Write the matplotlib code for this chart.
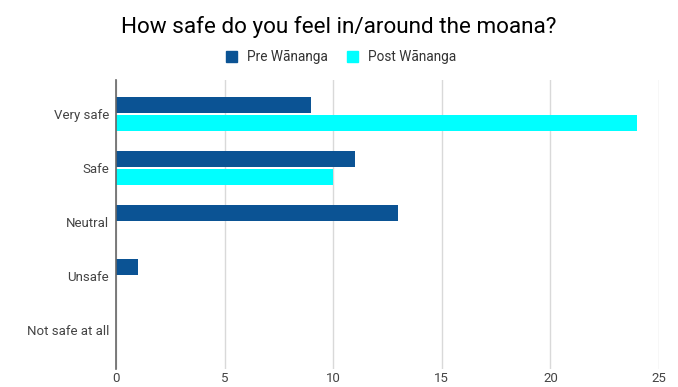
import numpy as np
import matplotlib.pyplot as plt
from matplotlib.patches import Patch

categories = ["Very safe", "Safe", "Neutral", "Unsafe", "Not safe at all"]
pre_values = [9, 11, 13, 1, 0]
post_values = [24, 10, 0, 0, 0]
x_ticks = [0, 5, 10, 15, 20, 25]

pre_color = "#0b5394"
post_color = "#00ffff"

plt.rcParams['font.family'] = ['Roboto', 'DejaVu Sans']

fig = plt.figure(figsize=(6.78, 3.87), dpi=100)
ax = fig.add_axes([0.171, 0.0465, 0.801, 0.7465])

y = np.arange(len(categories))
h = 0.29
ax.barh(y - 0.165, pre_values, height=h, color=pre_color, zorder=3)
ax.barh(y + 0.165, post_values, height=h, color=post_color, zorder=3)

ax.set_ylim(4.72, -0.63)
ax.set_xlim(0, 25)
ax.set_xticks(x_ticks)
ax.set_yticks(y)
ax.set_yticklabels(categories)
ax.tick_params(axis='both', length=0, labelsize=9.5, colors='#444444')
ax.tick_params(axis='y', pad=5)
ax.tick_params(axis='x', pad=2)
ax.grid(axis='x', color='#d9d9d9', linewidth=1, zorder=0)
for s in ['top', 'right', 'bottom']:
    ax.spines[s].set_visible(False)
ax.spines['left'].set_color('#666666')
ax.spines['left'].set_linewidth(1.2)
ax.spines['left'].set_zorder(4)

fig.text(0.5, 0.93, "How safe do you feel in/around the moana?", ha='center', va='center',
         fontsize=16.2, color='#000000')

handles = [Patch(color=pre_color, label="Pre Wānanga"),
           Patch(color=post_color, label="Post Wānanga")]
fig.legend(handles=handles, loc='center', bbox_to_anchor=(0.503, 0.853), ncol=2, frameon=False,
           fontsize=9.8, handlelength=0.85, handleheight=0.85, columnspacing=1.4, handletextpad=0.7,
           labelcolor='#333333')

fig.savefig("out.png", dpi=100)
